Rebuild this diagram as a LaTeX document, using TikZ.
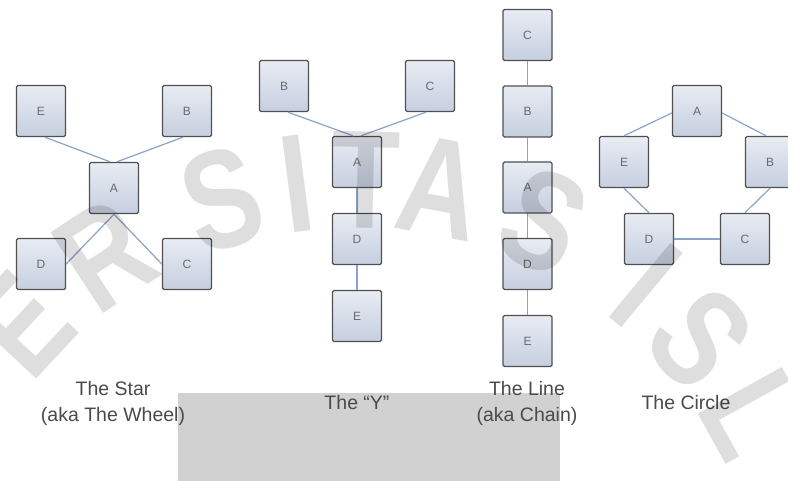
\documentclass[tikz,border=0pt]{standalone}
\usepackage{fontspec}
\setmainfont{Liberation Sans}
\definecolor{boxborder}{HTML}{505050}
\definecolor{boxtop}{HTML}{E8ECF3}
\definecolor{boxbot}{HTML}{C6CFE0}
\definecolor{edgecol}{HTML}{8AA3C8}
\definecolor{labelcol}{HTML}{4A4A4A}
\definecolor{lettercol}{HTML}{6A6A6A}
\begin{document}
\begin{tikzpicture}[x=1pt,y=-1pt,
  nbox/.style={draw=boxborder, line width=1.4pt, rounded corners=1.5pt,
    top color=boxtop, bottom color=boxbot, minimum width=49pt,
    minimum height=51pt, inner sep=0pt, text=lettercol,
    font=\fontsize{12}{12}\selectfont},
  link/.style={draw=edgecol, line width=1.2pt},
  caption/.style={text=labelcol, font=\fontsize{19.5}{26}\selectfont,
    align=center, inner sep=0pt},
  wm/.style={text=black, text opacity=0.13,
    font=\fontsize{140}{140}\bfseries\selectfont, inner sep=0pt}]
\path[use as bounding box, fill=white] (0,0) rectangle (788,481);
% background panel of the watermark
\fill[black!18] (178,393) rectangle (560,481);

% The Star
\node[nbox] (sE) at (41,111) {E};
\node[nbox] (sB) at (187,111) {B};
\node[nbox] (sA) at (114,188) {A};
\node[nbox] (sD) at (41,264) {D};
\node[nbox] (sC) at (187,264) {C};
\draw[link] ([xshift=4pt]sE.south) -- ([xshift=-4pt]sA.north);
\draw[link] ([xshift=-4pt]sB.south) -- ([xshift=3pt]sA.north);
\draw[link] (sA.south) -- (sD.east);
\draw[link] (sA.south) -- (sC.west);

% The Y
\node[nbox] (yB) at (284,86) {B};
\node[nbox] (yC) at (430,86) {C};
\node[nbox] (yA) at (357,162) {A};
\node[nbox] (yD) at (357,239) {D};
\node[nbox] (yE) at (357,316) {E};
\draw[link] ([xshift=4pt]yB.south) -- ([xshift=-4pt]yA.north);
\draw[link] ([xshift=-4pt]yC.south) -- ([xshift=4pt]yA.north);
\draw[link] (yA.south) -- (yD.north);
\draw[link] (yD.south) -- (yE.north);

% The Line
\node[nbox] (lC) at (527.5,35) {C};
\node[nbox] (lB) at (527.5,111.5) {B};
\node[nbox] (lA) at (527.5,187.5) {A};
\node[nbox] (lD) at (527.5,264) {D};
\node[nbox] (lE) at (527.5,341) {E};
\draw[link] (lC.south) -- (lB.north);
\draw[link] (lB.south) -- (lA.north);
\draw[link] (lA.south) -- (lD.north);
\draw[link] (lD.south) -- (lE.north);

% The Circle
\node[nbox] (cA) at (697,111) {A};
\node[nbox] (cE) at (624,162) {E};
\node[nbox] (cB) at (770,162) {B};
\node[nbox] (cD) at (649,239) {D};
\node[nbox] (cC) at (745,239) {C};
\draw[link] ([yshift=-2pt]cA.west) -- (cE.north);
\draw[link] ([yshift=-2pt]cA.east) -- ([xshift=-4pt]cB.north);
\draw[link] (cE.south) -- (cD.north);
\draw[link] (cB.south) -- (cC.north);
\draw[link] (cD.east) -- (cC.west);

% captions
\node[caption] (lstar) at (113,403) {The Star\\(aka The Wheel)};
\node[caption] (ly) at (357,403) {The “Y”};
\node[caption] (lline) at (527,403) {The Line\\(aka Chain)};
\node[caption] (lcirc) at (686,403) {The Circle};

% watermark letters along an arc
\foreach \ch/\ang in {V/152, E/137, R/123.3, S/107, I/97.4, T/88.7, A/79.2, S/65.5, I/50.2, S/40.7, L/29}
  \node[wm, rotate=\ang-90] at ({355+455*cos(\ang)},{635-455*sin(\ang)}) {\scalebox{0.8}[1]{\ch}};
\end{tikzpicture}
\end{document}
